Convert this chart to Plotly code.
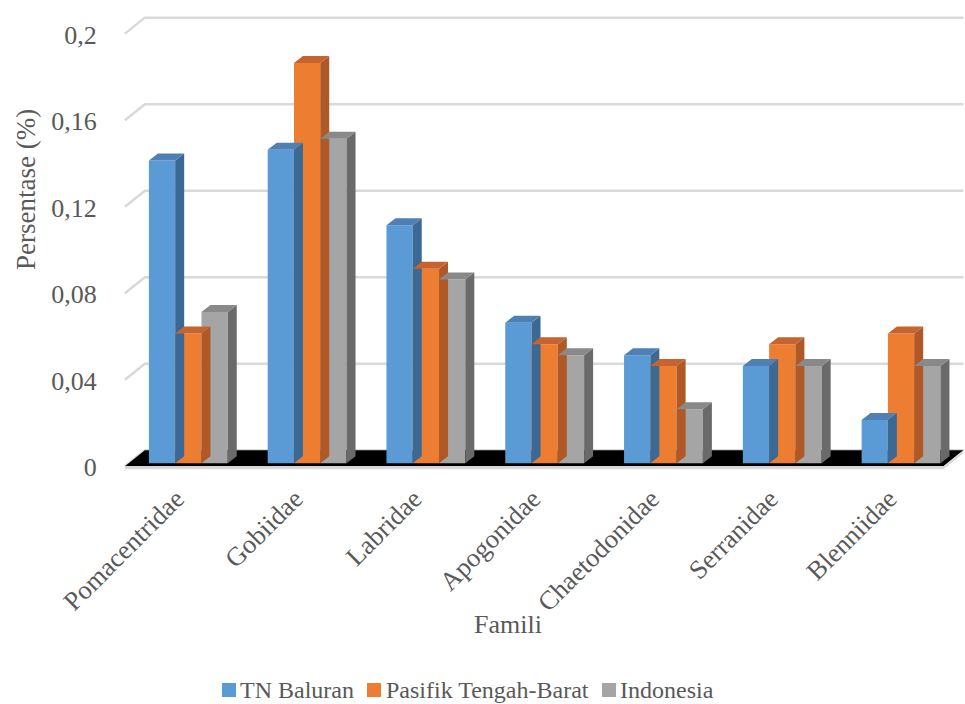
import plotly.graph_objects as go

# --- data -------------------------------------------------------------
famili = ["Pomacentridae", "Gobiidae", "Labridae", "Apogonidae",
          "Chaetodonidae", "Serranidae", "Blenniidae"]
tn_baluran = [0.14, 0.145, 0.11, 0.065, 0.05, 0.045, 0.02]
pasifik_tengah_barat = [0.06, 0.185, 0.09, 0.055, 0.045, 0.055, 0.06]
indonesia = [0.07, 0.15, 0.085, 0.05, 0.025, 0.045, 0.045]

y_ticks = [0, 0.04, 0.08, 0.12, 0.16, 0.2]
y_tick_labels = ["0", "0,04", "0,08", "0,12", "0,16", "0,2"]

series = [
    ("TN Baluran", tn_baluran),
    ("Pasifik Tengah-Barat", pasifik_tengah_barat),
    ("Indonesia", indonesia),
]

# --- styling ----------------------------------------------------------
front = ["#5B9BD5", "#ED7D31", "#A5A5A5"]
side = ["#3C6894", "#B05826", "#6A6A6A"]
top = ["#4F80B4", "#C5642E", "#898989"]
text_col = "#595959"
FONT = "Times New Roman, Liberation Serif, Tinos, serif"

W, H = 965, 704
M_L, M_R, M_T, M_B = 123, 1, 9, 232
PLOT_W = W - M_L - M_R
PLOT_H = H - M_T - M_B

# pixel scale of the plot (used to express the 3-D depth in data units)
PX_X = 119.0     # pixels per category
PX_Y = 2165.0    # pixels per unit of value
X_RANGE = [-0.55, 6.53]
Y_RANGE = [-0.004, 0.21]

bar_w = 0.2213               # width of a single column
depth_dx, depth_dy = 9 / PX_X, 7 / PX_Y           # column depth
wall_dx, wall_dy = 20 / PX_X, 16 / PX_Y           # floor / wall depth
front_x0, front_y = -0.534, -3 / PX_Y             # front-left corner of floor
front_x1 = 6.357


def px_x(px):
    return (px - M_L) / PLOT_W


def px_y(py):
    return (H - M_B - py) / PLOT_H


fig = go.Figure()

# side and top faces of each column (drawn first, fronts go on top)
x_cat = list(range(len(famili)))
for i, (name, vals) in enumerate(series):
    off = (i - 1.5) * bar_w
    sx, sy, tx, ty = [], [], [], []
    for c, v in zip(x_cat, vals):
        x0 = c + off
        x1 = x0 + bar_w
        sx += [x1, x1 + depth_dx, x1 + depth_dx, x1, x1, None]
        sy += [0, depth_dy, v + depth_dy, v, 0, None]
        tx += [x0, x0 + depth_dx, x1 + depth_dx, x1, x0, None]
        ty += [v, v + depth_dy, v + depth_dy, v, v, None]
    fig.add_trace(go.Scatter(x=sx, y=sy, mode="lines", fill="toself",
                             fillcolor=side[i], line=dict(width=0),
                             hoverinfo="skip", showlegend=False))
    fig.add_trace(go.Scatter(x=tx, y=ty, mode="lines", fill="toself",
                             fillcolor=top[i], line=dict(width=0),
                             hoverinfo="skip", showlegend=False))

# front faces of the columns
for i, (name, vals) in enumerate(series):
    fig.add_trace(go.Bar(
        x=x_cat, y=vals, name=name, width=bar_w,
        offset=(i - 1.5) * bar_w, showlegend=False,
        marker=dict(color=front[i], line=dict(width=0)),
    ))

# back-wall gridlines with their diagonal on the side wall
shapes = []
for v in y_ticks:
    shapes.append(dict(
        type="path", xref="x", yref="y", layer="below",
        path=(f"M{front_x0},{v + front_y} L{front_x0 + wall_dx},{v + front_y + wall_dy} "
              f"L{front_x1 + wall_dx},{v + front_y + wall_dy}"),
        line=dict(color="#D9D9D9", width=2.5),
    ))

# floor: black top face and a thin light front edge
fy0 = front_y
fy1 = front_y + wall_dy
shapes.append(dict(
    type="path", xref="x", yref="y", layer="below",
    path=(f"M{front_x0},{fy0} L{front_x0 + wall_dx},{fy1} "
          f"L{front_x1 + wall_dx},{fy1} L{front_x1},{fy0} Z"),
    fillcolor="#000000", line=dict(width=0),
))
edge = 3 / PX_Y
shapes.append(dict(
    type="path", xref="x", yref="y", layer="below",
    path=(f"M{front_x0},{fy0} L{front_x1},{fy0} L{front_x1 + wall_dx},{fy1} "
          f"L{front_x1 + wall_dx},{fy1 - edge} L{front_x1},{fy0 - edge} "
          f"L{front_x0},{fy0 - edge} Z"),
    fillcolor="#D9D9D9", line=dict(width=0),
))

# legend row: coloured square followed by the series name
legend_sq_x = [222, 367, 602]
legend_txt_x = [238, 384, 618]
legend_y = 690
annotations = []
for i, (name, _) in enumerate(series):
    shapes.append(dict(
        type="rect", xref="paper", yref="paper",
        x0=px_x(legend_sq_x[i]), x1=px_x(legend_sq_x[i] + 14),
        y0=px_y(legend_y + 7), y1=px_y(legend_y - 7),
        fillcolor=front[i], line=dict(width=0),
    ))
    annotations.append(dict(
        text=name, xref="paper", yref="paper",
        x=px_x(legend_txt_x[i]), y=px_y(legend_y),
        xanchor="left", yanchor="middle", showarrow=False,
        font=dict(family=FONT, size=24, color=text_col),
    ))

annotations += [
    dict(text="Famili", xref="paper", yref="paper",
         x=px_x(508), y=px_y(624), showarrow=False,
         font=dict(family=FONT, size=26, color=text_col),
         xanchor="center", yanchor="middle"),
    dict(text="Persentase (%)", xref="paper", yref="paper",
         x=px_x(26), y=px_y(190), textangle=-90, showarrow=False,
         font=dict(family=FONT, size=27, color=text_col),
         xanchor="center", yanchor="middle"),
]

fig.update_layout(
    width=W, height=H,
    margin=dict(l=M_L, r=M_R, t=M_T, b=M_B),
    paper_bgcolor="white", plot_bgcolor="white",
    barmode="overlay", showlegend=False,
    font=dict(family=FONT, size=26, color=text_col),
    shapes=shapes,
    annotations=annotations,
    xaxis=dict(
        range=X_RANGE, tickmode="array", tickvals=x_cat, ticktext=famili,
        tickangle=-45, showgrid=False, zeroline=False, showline=False,
        ticks="", ticklabelstandoff=5, ticklabelshift=-12,
        tickfont=dict(family=FONT, size=26.5, color=text_col),
    ),
    yaxis=dict(
        range=Y_RANGE, tickmode="array", tickvals=y_ticks,
        ticktext=y_tick_labels, showgrid=False, zeroline=False,
        showline=False, ticks="outside", ticklen=20,
        tickcolor="rgba(0,0,0,0)", ticklabelshift=4,
        tickfont=dict(family=FONT, size=26, color=text_col),
    ),
)

fig.write_html("out.html")
